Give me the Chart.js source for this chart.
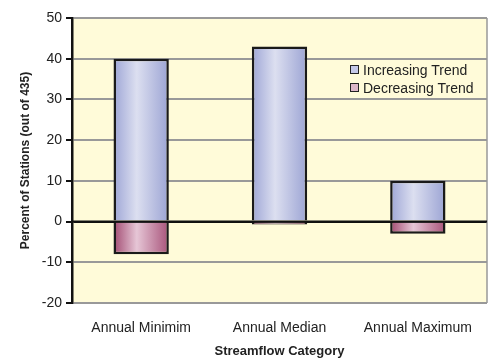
<!DOCTYPE html>
<html>
<head>
<meta charset="utf-8">
<script src="https://cdn.jsdelivr.net/npm/chart.js@4"></script>
<style>
  html, body { margin: 0; padding: 0; background: #fff; }
  #wrap { position: relative; width: 498px; height: 359px; }
  #legend {
    position: absolute; left: 350px; top: 61px;
    font-family: "Liberation Sans", Arial, sans-serif;
    font-size: 14px; color: #222; line-height: 18px;
  }
  #legend span.box {
    display: inline-block; width: 7px; height: 7px; border: 1.5px solid #222;
    margin-right: 4px; vertical-align: 1px;
  }
</style>
</head>
<body>
<div id="wrap">
  <canvas id="chart" width="498" height="359"></canvas>
  <div id="legend"></div>
</div>
<script>
const categories = ['Annual Minimim', 'Annual Median', 'Annual Maximum'];
const increasing = [40, 43, 10];
const decreasing = [-8, -0.7, -3];
const seriesNames = ['Increasing Trend', 'Decreasing Trend'];
const yTicks = [50, 40, 30, 20, 10, 0, -10, -20];

const FONT = '"Liberation Sans", Arial, sans-serif';
const BAR_PCT = 0.4;

// horizontal shading across each bar, like the cylinder look of the original
function shade(edgeL, mid, edgeR) {
    return ctx => {
        const chart = ctx.chart;
        const a = chart.chartArea;
        if (!a || ctx.dataIndex === undefined) return mid;
        const x = chart.scales.x.getPixelForValue(ctx.dataIndex);
        const w = (a.right - a.left) / categories.length * BAR_PCT;
        const g = chart.ctx.createLinearGradient(x - w / 2, 0, x + w / 2, 0);
        g.addColorStop(0, edgeL);
        g.addColorStop(0.42, mid);
        g.addColorStop(1, edgeR);
        return g;
    };
}

const framePlugin = {
    id: 'frame',
    beforeDraw(chart) {
        const { ctx, chartArea: a } = chart;
        ctx.save();
        ctx.fillStyle = '#fffbd9';
        ctx.fillRect(a.left, a.top, a.right - a.left, a.bottom - a.top);
        ctx.restore();
    },
    afterDraw(chart) {
        const { ctx, chartArea: a } = chart;
        const y = chart.scales.y;
        ctx.save();
        ctx.strokeStyle = '#999';
        ctx.lineWidth = 1.5;
        ctx.beginPath();
        ctx.moveTo(a.right, a.top);
        ctx.lineTo(a.right, a.bottom);
        ctx.stroke();
        // zero line over the bars
        ctx.strokeStyle = '#111';
        ctx.lineWidth = 2;
        ctx.beginPath();
        ctx.moveTo(a.left, y.getPixelForValue(0));
        ctx.lineTo(a.right, y.getPixelForValue(0));
        ctx.stroke();
        ctx.restore();
    }
};

new Chart(document.getElementById('chart'), {
    type: 'bar',
    data: {
        labels: categories,
        datasets: [
            {
                label: seriesNames[0],
                data: increasing,
                backgroundColor: shade('#9ea6d6', '#dcdff0', '#9ca4d4'),
                borderColor: '#1a1a1a',
                borderWidth: 2.5,
                borderSkipped: 'start',
                barPercentage: BAR_PCT,
                categoryPercentage: 1
            },
            {
                label: seriesNames[1],
                data: decreasing,
                backgroundColor: shade('#a24b72', '#e6c6d6', '#a8537a'),
                borderColor: '#1a1a1a',
                borderWidth: 2.5,
                borderSkipped: 'start',
                barPercentage: BAR_PCT,
                categoryPercentage: 1
            }
        ]
    },
    options: {
        responsive: false,
        animation: false,
        layout: { padding: { top: 18, right: 11, left: 14, bottom: 0 } },
        plugins: {
            legend: { display: false },
            tooltip: { enabled: false }
        },
        scales: {
            x: {
                stacked: true,
                grid: { display: false },
                border: { display: false },
                ticks: { color: '#222', font: { family: FONT, size: 14 }, padding: 9 },
                title: {
                    display: true, text: 'Streamflow Category', color: '#222',
                    font: { family: FONT, size: 13, weight: 'bold' }, padding: { top: 12, bottom: 0 }
                },
                afterFit(scale) { scale.height = 56; }
            },
            y: {
                stacked: true,
                min: -20, max: 50,
                afterBuildTicks(scale) { scale.ticks = yTicks.map(v => ({ value: v })); },
                grid: {
                    color: ctx => ctx.tick && ctx.tick.value === 0 ? '#111' : '#999',
                    lineWidth: 2,
                    tickColor: '#111',
                    tickLength: 6
                },
                border: { display: true, color: '#111', width: 2.5 },
                ticks: { color: '#222', font: { family: FONT, size: 14 }, padding: 4 },
                title: {
                    display: true, text: 'Percent of Stations (out of 435)', color: '#222',
                    font: { family: FONT, size: 12, weight: 'bold' }, padding: { bottom: 6 }
                },
                afterFit(scale) { scale.width = 58; }
            }
        }
    },
    plugins: [framePlugin]
});

// legend inside the plot, upper right
const legendColors = ['#c4c8e8', '#dcb6c8'];
document.getElementById('legend').innerHTML = seriesNames.map((n, i) =>
    `<div><span class="box" style="background:${legendColors[i]}"></span>${n}</div>`
).join('');
</script>
</body>
</html>
